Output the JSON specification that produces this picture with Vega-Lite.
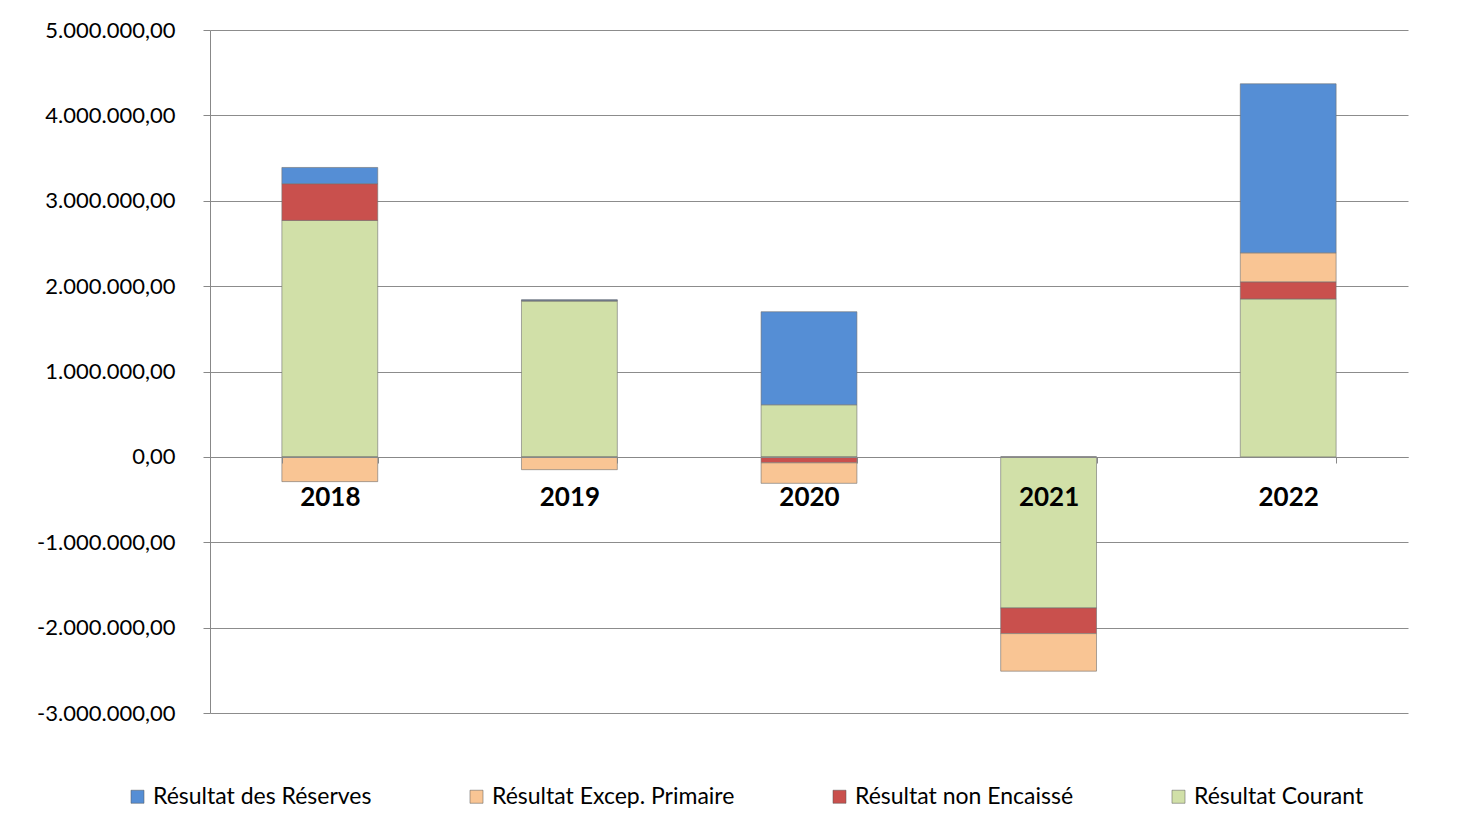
{
  "$schema": "https://vega.github.io/schema/vega-lite/v6.json",
  "width": 1198,
  "height": 683,
  "autosize": {"type": "none"},
  "padding": {"left": 210, "top": 30, "right": 59, "bottom": 114},
  "background": "white",
  "config": {
    "locale": {"number": {"decimal": ",", "thousands": ".", "grouping": [3], "currency": ["", " €"], "minus": "-"}},
    "view": {"stroke": null},
    "font": "Lato"
  },
  "data": {
    "values": [
      {"annee": "2018", "serie": "Résultat Courant", "valeur": 2770000, "ordre": 1},
      {"annee": "2018", "serie": "Résultat non Encaissé", "valeur": 430000, "ordre": 2},
      {"annee": "2018", "serie": "Résultat Excep. Primaire", "valeur": -290000, "ordre": 3},
      {"annee": "2018", "serie": "Résultat des Réserves", "valeur": 190000, "ordre": 4},
      {"annee": "2019", "serie": "Résultat Courant", "valeur": 1825000, "ordre": 1},
      {"annee": "2019", "serie": "Résultat non Encaissé", "valeur": 8000, "ordre": 2},
      {"annee": "2019", "serie": "Résultat Excep. Primaire", "valeur": -150000, "ordre": 3},
      {"annee": "2019", "serie": "Résultat des Réserves", "valeur": 8000, "ordre": 4},
      {"annee": "2020", "serie": "Résultat Courant", "valeur": 610000, "ordre": 1},
      {"annee": "2020", "serie": "Résultat non Encaissé", "valeur": -70000, "ordre": 2},
      {"annee": "2020", "serie": "Résultat Excep. Primaire", "valeur": -240000, "ordre": 3},
      {"annee": "2020", "serie": "Résultat des Réserves", "valeur": 1090000, "ordre": 4},
      {"annee": "2021", "serie": "Résultat Courant", "valeur": -1770000, "ordre": 1},
      {"annee": "2021", "serie": "Résultat non Encaissé", "valeur": -300000, "ordre": 2},
      {"annee": "2021", "serie": "Résultat Excep. Primaire", "valeur": -440000, "ordre": 3},
      {"annee": "2021", "serie": "Résultat des Réserves", "valeur": 0, "ordre": 4},
      {"annee": "2022", "serie": "Résultat Courant", "valeur": 1850000, "ordre": 1},
      {"annee": "2022", "serie": "Résultat non Encaissé", "valeur": 200000, "ordre": 2},
      {"annee": "2022", "serie": "Résultat Excep. Primaire", "valeur": 340000, "ordre": 3},
      {"annee": "2022", "serie": "Résultat des Réserves", "valeur": 1980000, "ordre": 4}
    ]
  },
  "mark": {"type": "bar", "stroke": "#6f6f6f", "strokeOpacity": 0.6, "strokeWidth": 1},
  "encoding": {
    "x": {
      "field": "annee", "type": "nominal",
      "scale": {"paddingInner": 0.6, "paddingOuter": 0.3},
      "axis": {
        "title": null, "offset": -256, "zindex": 1, "labelAngle": 0,
        "tickBand": "extent", "tickSize": 6, "tickColor": "#888888",
        "domainColor": "#888888", "labelPadding": 21,
        "labelFont": "Lato", "labelFontWeight": "bold", "labelFontSize": 26, "labelColor": "#000000"
      }
    },
    "y": {
      "field": "valeur", "type": "quantitative", "stack": "zero",
      "scale": {"domain": [-3000000, 5000000], "nice": false},
      "axis": {
        "title": null, "values": [-3000000, -2000000, -1000000, 0, 1000000, 2000000, 3000000, 4000000, 5000000],
        "format": ",.2f", "tickSize": 7, "tickColor": "#888888", "domainColor": "#888888",
        "gridColor": "#8c8c8c", "labelPadding": 28,
        "labelFont": "Lato", "labelFontSize": 22, "labelColor": "#000000"
      }
    },
    "color": {
      "field": "serie", "type": "nominal",
      "scale": {
        "domain": ["Résultat des Réserves", "Résultat Excep. Primaire", "Résultat non Encaissé", "Résultat Courant"],
        "range": ["#558ED5", "#F9C594", "#C9504D", "#D1E0A8"]
      },
      "legend": {
        "title": null, "orient": "none", "legendX": -84, "legendY": 755,
        "direction": "horizontal", "columns": 4, "columnPadding": 93,
        "symbolType": "square", "symbolSize": 170, "symbolStrokeWidth": 0.5, "symbolStrokeColor": "#555555",
        "labelFont": "Lato", "labelFontSize": 23, "labelColor": "#000000", "labelOffset": 4, "labelLimit": 400
      }
    },
    "order": {"field": "ordre", "type": "quantitative"}
  }
}
